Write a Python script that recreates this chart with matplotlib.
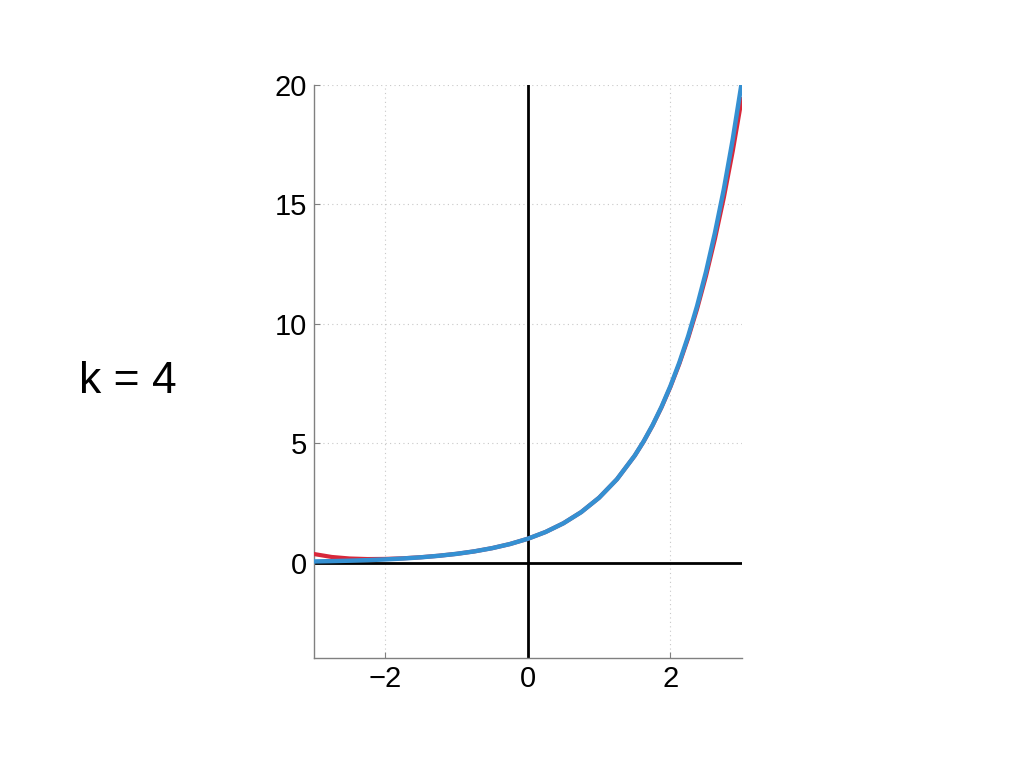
import numpy as np
import matplotlib
matplotlib.use('Agg')
import matplotlib.pyplot as plt

plt.rcParams['font.family'] = ['Liberation Sans', 'DejaVu Sans']

# sample points
x_vals = [-3.0, -2.75, -2.5, -2.25, -2.0, -1.75, -1.5, -1.25, -1.0, -0.75, -0.5, -0.25,
          0.0, 0.25, 0.5, 0.75, 1.0, 1.25, 1.5, 1.625, 1.75, 1.875, 2.0, 2.125, 2.25,
          2.375, 2.5, 2.625, 2.75, 2.875, 3.0]
exact_vals = [0.050, 0.064, 0.082, 0.105, 0.135, 0.174, 0.223, 0.287, 0.368, 0.472, 0.607, 0.779,
              1.000, 1.284, 1.649, 2.117, 2.718, 3.490, 4.482, 5.078, 5.755, 6.521, 7.389, 8.373, 9.488,
              10.75, 12.18, 13.81, 15.64, 17.73, 20.09]
approx_vals = [0.362, 0.238, 0.174, 0.150, 0.156, 0.182, 0.226, 0.288, 0.368, 0.472, 0.607, 0.779,
               1.000, 1.284, 1.649, 2.117, 2.718, 3.489, 4.478, 5.071, 5.742, 6.500, 7.356, 8.321, 9.408,
               10.63, 12.01, 13.56, 15.29, 17.24, 19.41]

x_ticks = [-2, 0, 2]
y_ticks = [0, 5, 10, 15, 20]
label = 'k = 4'

fig = plt.figure(figsize=(10.24, 7.68), dpi=100)
ax = fig.add_axes([0.3065, 0.143, 0.4178, 0.7463])

ax.plot(x_vals, approx_vals, color='#d8283a', linewidth=3, solid_joinstyle='round', zorder=3)
ax.plot(x_vals, exact_vals, color='#3590d2', linewidth=3.2, solid_joinstyle='round', zorder=4)

ax.axhline(0, color='black', linewidth=2, zorder=2)
ax.axvline(0, color='black', linewidth=2, zorder=2)

ax.set_xlim(-3, 3)
ax.set_ylim(-4, 20)
ax.set_xticks(x_ticks)
ax.set_yticks(y_ticks)
ax.set_xticklabels(['\u22122', '0', '2'])
ax.grid(True, linestyle=(0, (1, 3)), color='#c8c8c8', linewidth=0.8)

for side in ['top', 'right']:
    ax.spines[side].set_visible(False)
for side in ['left', 'bottom']:
    ax.spines[side].set_color('#808080')
    ax.spines[side].set_linewidth(1.0)
ax.tick_params(direction='in', length=4, color='#808080', labelsize=21, pad=5)

fig.text(0.125, 0.503, label, fontsize=32, ha='center', va='center')

plt.savefig('out.png', dpi=100)
